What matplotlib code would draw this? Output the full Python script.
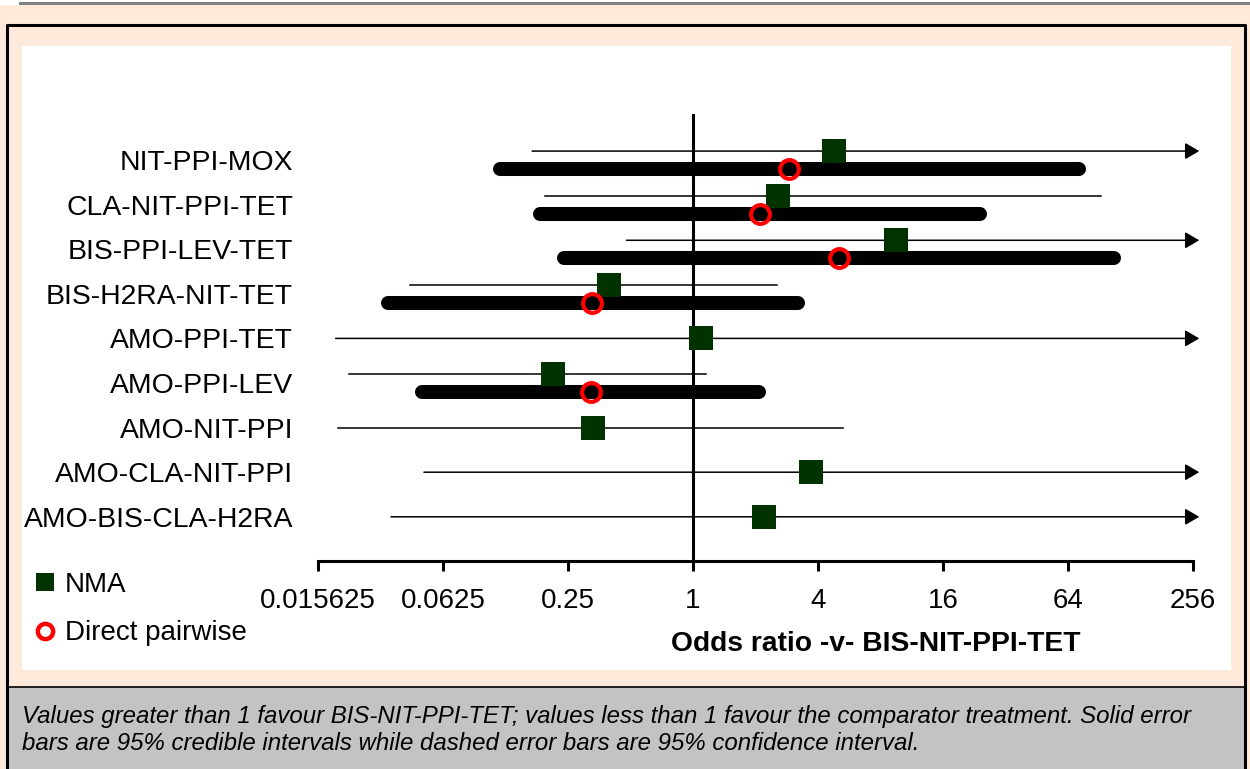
import numpy as np
import matplotlib
matplotlib.use("Agg")
import matplotlib.pyplot as plt
from matplotlib.lines import Line2D
from matplotlib.patches import Rectangle
import matplotlib.transforms as mtransforms

plt.rcParams['font.family'] = ['Liberation Sans', 'DejaVu Sans']

# Datos (odds ratio -v- BIS-NIT-PPI-TET), de arriba hacia abajo
tratamientos = ["NIT-PPI-MOX", "CLA-NIT-PPI-TET", "BIS-PPI-LEV-TET", "BIS-H2RA-NIT-TET",
                "AMO-PPI-TET", "AMO-PPI-LEV", "AMO-NIT-PPI", "AMO-CLA-NIT-PPI",
                "AMO-BIS-CLA-H2RA"]
# NMA: estimacion y limites (inf = la linea sigue fuera del eje -> flecha)
nma_or = [4.78, 2.56, 9.50, 0.394, 1.09, 0.212, 0.330, 3.70, 2.20]
nma_lo = [0.168, 0.194, 0.478, 0.0433, 0.019, 0.022, 0.0195, 0.0506, 0.0351]
nma_hi = [np.inf, 92.3, np.inf, 2.54, np.inf, 1.155, 5.28, np.inf, np.inf]
# Comparacion directa (None = no hay)
dir_or = [2.90, 2.10, 5.03, 0.326, None, 0.322, None, None, None]
dir_lo = [0.118, 0.184, 0.238, 0.034, None, 0.0494, None, None, None]
dir_hi = [72.3, 24.1, 106.6, 3.20, None, 2.08, None, None, None]

tick_vals = [1/64, 1/16, 1/4, 1, 4, 16, 64, 256]
tick_labels = ["0.015625", "0.0625", "0.25", "1", "4", "16", "64", "256"]

pie = ["Values greater than 1 favour BIS-NIT-PPI-TET; values less than 1 favour the comparator treatment. Solid error",
       "bars are 95% credible intervals while dashed error bars are 95% confidence interval."]

PEACH = "#FDEADB"
GRIS = "#C3C3C3"
VERDE = "#003300"
W, H = 1250, 769

fig = plt.figure(figsize=(12.5, 7.69), dpi=100, facecolor=PEACH)

def px(x0, y0, x1, y1):
    # rectangulo en pixeles (origen arriba-izquierda) -> fraccion de figura
    return (x0 / W, 1 - y1 / H, (x1 - x0) / W, (y1 - y0) / H)

# fondo: franja blanca arriba, linea gris, marco negro, caja gris del pie
r = px(0, 0, W, 4)
fig.add_artist(Rectangle(r[:2], r[2], r[3], transform=fig.transFigure,
                         color="white", zorder=0))
fig.add_artist(Line2D([20 / W, 1], [1 - 3 / H] * 2, transform=fig.transFigure,
                      color="#808080", lw=2.2))
r = px(8, 687, 1245, H + 5)
fig.add_artist(Rectangle(r[:2], r[2], r[3], transform=fig.transFigure,
                         facecolor=GRIS, edgecolor="none", zorder=0))
fig.add_artist(Line2D([7 / W, 7 / W, 1245 / W, 1245 / W], [0, 1 - 25 / H, 1 - 25 / H, 0],
                      transform=fig.transFigure, color="black", lw=2.2))
fig.add_artist(Line2D([7 / W, 1245 / W], [1 - 687 / H] * 2, transform=fig.transFigure,
                      color="black", lw=1.2))

ax = fig.add_axes(px(22, 46, 1231, 670))
ax.set_facecolor("white")
ax.set_xscale("log", base=2)
ax.set_xlim(2 ** -10.736, 2 ** 8.608)
ax.set_ylim(11.435, -2.556)

filas = np.arange(len(tratamientos))
punta = 2 ** 8.1
off = 0.2

for i in filas:
    y_nma = i - off if dir_or[i] is not None else i
    hi = nma_hi[i]
    if np.isinf(hi):
        ax.annotate("", xy=(punta, y_nma), xytext=(nma_lo[i], y_nma),
                    arrowprops=dict(arrowstyle="-|>,head_length=0.6,head_width=0.35",
                                    color="black", lw=1.1, mutation_scale=14.4,
                                    shrinkA=0, shrinkB=0), zorder=2)
    else:
        ax.plot([nma_lo[i], hi], [y_nma, y_nma], color="black", lw=1.1, zorder=2)
    if dir_or[i] is not None:
        ax.plot([dir_lo[i], dir_hi[i]], [i + off, i + off], color="black", lw=10.1,
                solid_capstyle="round", zorder=3)

y_nma_all = [i - off if dir_or[i] is not None else i for i in filas]
ax.plot(nma_or, y_nma_all, "s", color=VERDE, ms=17.3, mew=0, zorder=4)
d_idx = [i for i in filas if dir_or[i] is not None]
ax.plot([dir_or[i] for i in d_idx], [i + off for i in d_idx], "o", mfc="none",
        mec="red", mew=3, ms=13.5, zorder=5)

# linea vertical en OR = 1
ax.plot([1, 1], [-1.0, 9.0], color="black", lw=2.2, zorder=1)

# nombres de tratamientos
trans = mtransforms.blended_transform_factory(ax.transAxes, ax.transData)
for i, t in zip(filas, tratamientos):
    ax.text((293 - 22) / 1209, i, t, transform=trans, ha="right",
            va="center_baseline", fontsize=20.4)

# eje x
for s in ["top", "right", "left"]:
    ax.spines[s].set_visible(False)
ax.spines["bottom"].set_position(("data", 9.0))
ax.spines["bottom"].set_bounds(tick_vals[0], tick_vals[-1])
ax.spines["bottom"].set_linewidth(2.2)
ax.set_xticks(tick_vals)
ax.set_xticklabels(tick_labels)
ax.xaxis.set_minor_locator(matplotlib.ticker.NullLocator())
ax.tick_params(axis="x", direction="out", length=7.2, width=2.2, labelsize=20, pad=12)
ax.set_yticks([])

ax.set_xlabel("Odds ratio -v- BIS-NIT-PPI-TET", fontsize=20.3, fontweight="bold")
ax.xaxis.set_label_coords((876 - 22) / 1209, (670 - 631) / 624)

# leyenda
h_nma = Line2D([], [], ls="none", marker="s", color=VERDE, ms=12.5, mew=0)
h_dir = Line2D([], [], ls="none", marker="o", mfc="white", mec="red", mew=3.2, ms=11)
ax.legend([h_nma, h_dir], ["NMA", "Direct pairwise"], loc="upper left",
          bbox_to_anchor=((37 - 22) / 1209, (670 - 572) / 624), frameon=False,
          fontsize=20, handlelength=0.6, handletextpad=0.4, labelspacing=0.8,
          borderpad=0, borderaxespad=0)

# pie de figura
for k, linea in enumerate(pie):
    fig.text(22 / W, 1 - (717 + 27 * k) / H, linea, fontsize=17.3, style="italic",
             va="center", ha="left")

fig.savefig("out.png", dpi=100, facecolor=PEACH)
